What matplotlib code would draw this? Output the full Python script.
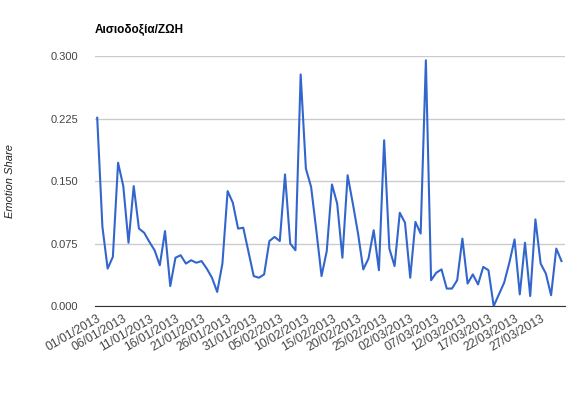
import numpy as np
import pandas as pd
import matplotlib
matplotlib.use("Agg")
import matplotlib.pyplot as plt

# Αισιοδοξία/ΖΩΗ - daily emotion share, 01/01/2013 - 31/03/2013
dates = pd.date_range("2013-01-01", "2013-03-31", freq="D")
share = [
    0.226, 0.095, 0.045, 0.059, 0.172, 0.144, 0.076, 0.144, 0.093, 0.088,
    0.077, 0.067, 0.049, 0.090, 0.024, 0.058, 0.061, 0.051, 0.055, 0.052,
    0.054, 0.045, 0.034, 0.017, 0.051, 0.138, 0.124, 0.093, 0.094, 0.065,
    0.036, 0.034, 0.038, 0.078, 0.083, 0.078, 0.158, 0.075, 0.067, 0.278,
    0.165, 0.143, 0.091, 0.036, 0.066, 0.146, 0.123, 0.058, 0.157, 0.123,
    0.087, 0.044, 0.057, 0.091, 0.043, 0.199, 0.069, 0.048, 0.112, 0.100,
    0.034, 0.101, 0.087, 0.295, 0.031, 0.040, 0.044, 0.021, 0.021, 0.031,
    0.081, 0.027, 0.038, 0.026, 0.047, 0.043, 0.000, 0.014, 0.028, 0.052,
    0.080, 0.014, 0.076, 0.012, 0.104, 0.051, 0.039, 0.013, 0.069, 0.054,
]
y_ticks = [0.0, 0.075, 0.15, 0.225, 0.3]

plt.rcParams['font.family'] = ['Liberation Sans', 'DejaVu Sans']

fig = plt.figure(figsize=(5.68, 3.98), dpi=100)
ax = fig.add_axes([0.167, 0.231, 0.828, 0.628])

x = np.arange(len(dates))
ax.plot(x, share, color='#3366cc', linewidth=1.5)

ax.set_ylim(0, 0.3)
ax.set_xlim(-0.45, 89.7)
ax.set_yticks(y_ticks)
ax.set_yticklabels([f"{v:.3f}" for v in y_ticks])
tick_idx = x[::5]
ax.set_xticks(tick_idx)
ax.set_xticklabels([dates[i].strftime("%d/%m/%Y") for i in tick_idx],
                   rotation=30, ha='right', rotation_mode='anchor')

ax.grid(axis='y', color='#cccccc', linewidth=1)
ax.set_axisbelow(True)
for s in ['top', 'right', 'left']:
    ax.spines[s].set_visible(False)
ax.spines['bottom'].set_color('#333333')
ax.tick_params(axis='both', length=0, labelcolor='#444444')
ax.tick_params(axis='y', pad=12, labelsize=8)
ax.tick_params(axis='x', pad=5, labelsize=8.7)

fig.text(0.018, 0.545, "Emotion Share", rotation=90, style='italic',
         fontsize=8, color='#222222', ha='center', va='center')
fig.text(0.167, 0.924, "Αισιοδοξία/ΖΩΗ", fontsize=8.5, fontweight='bold',
         color='#000000', ha='left', va='center')

fig.savefig("out.png", dpi=100)
